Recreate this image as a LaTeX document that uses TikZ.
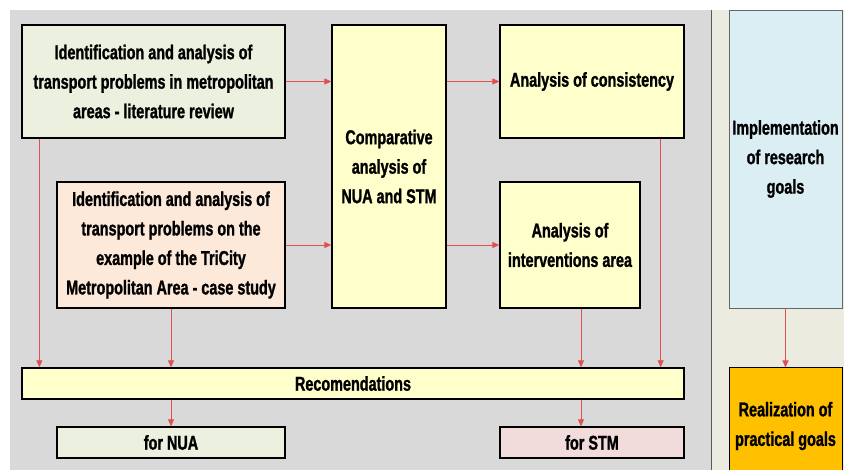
\documentclass[tikz,border=0pt]{standalone}
\usepackage{fontspec}
\setmainfont{Liberation Sans}[FakeStretch=0.72, BoldFeatures={FakeBold=1.2}]
\usetikzlibrary{arrows.meta}
\definecolor{bggray}{HTML}{D9D9D9}
\definecolor{bgbeige}{HTML}{ECEBE0}
\definecolor{litgreen}{HTML}{EBF1DE}
\definecolor{peach}{HTML}{FDE9D9}
\definecolor{paleyel}{HTML}{FFFFCC}
\definecolor{palepink}{HTML}{F2DCDB}
\definecolor{paleblue}{HTML}{DAEEF3}
\definecolor{goldbox}{HTML}{FFC000}
\definecolor{arrred}{HTML}{E05050}

\begin{document}
\begin{tikzpicture}[x=10pt,y=10pt]
  \tikzstyle{every node}+=[inner sep=0pt, align=center, font=\fontsize{20}{29.5}\selectfont\bfseries]
  \tikzset{
    box/.style={draw=black, line width=1.3pt},
    sidebox/.style={draw=gray!80!black, line width=0.8pt},
    arr/.style={draw=arrred, line width=0.8pt, -{Triangle[length=7pt,width=6pt]}}
  }
  \useasboundingbox (0,0) rectangle (84.4,-47);
  % backgrounds
  \fill [bggray] (1,-1) rectangle (71.1,-47);
  \fill [bgbeige] (71.1,-1) rectangle (84.4,-47);
  \draw [gray!70!black, line width=0.8pt] (71.1,-1) -- (71.1,-47);
  % left part
  \node [box, fill=litgreen, minimum width=263pt, minimum height=113pt] (lit) at (15.35,-8.15)
    {Identification and analysis of\\transport problems in metropolitan\\areas - literature review};
  \node [box, fill=peach, minimum width=228pt, minimum height=126pt] (case) at (17.1,-24.5)
    {Identification and analysis of\\transport problems on the\\example of the TriCity\\Metropolitan Area - case study};
  \node [box, fill=paleyel, minimum width=114pt, minimum height=283pt] (comp) at (38.9,-16.65)
    {Comparative\\analysis of\\NUA and STM};
  \node [box, fill=paleyel, minimum width=184pt, minimum height=113pt] (cons) at (59.2,-8.15)
    {Analysis of consistency};
  \node [box, fill=paleyel, minimum width=140pt, minimum height=126pt] (interv) at (57,-24.5)
    {Analysis of\\interventions area};
  \node [box, fill=paleyel, minimum width=662pt, minimum height=31pt] (rec) at (35.3,-38.35)
    {Recomendations};
  \node [box, fill=litgreen, minimum width=228pt, minimum height=31pt] (nua) at (17.1,-44.25)
    {for NUA};
  \node [box, fill=palepink, minimum width=184pt, minimum height=31pt] (stm) at (59.2,-44.25)
    {for STM};
  % right part
  \node [sidebox, fill=paleblue, minimum width=113pt, minimum height=298pt] (impl) at (78.55,-15.9)
    {Implementation\\of research\\goals};
  \node [box, line width=1pt, fill=goldbox, minimum width=113pt, minimum height=116pt] (real) at (78.55,-42.6)
    {Realization of\\practical goals};
  % connectors
  \draw [arr] (lit.east) -- (lit.east -| comp.west);
  \draw [arr] (case.east) -- (case.east -| comp.west);
  \draw [arr] (comp.east |- cons.west) -- (cons.west);
  \draw [arr] (comp.east |- interv.west) -- (interv.west);
  \draw [arr] ([xshift=18pt]lit.south west) -- ([xshift=18pt]lit.south west |- rec.north);
  \draw [arr] (case.south) -- (case.south |- rec.north);
  \draw [arr] ([xshift=11pt]interv.south) -- ([xshift=11pt]interv.south |- rec.north);
  \draw [arr] ([xshift=-24pt]cons.south east) -- ([xshift=-24pt]cons.south east |- rec.north);
  \draw [arr] (nua.north |- rec.south) -- (nua.north);
  \draw [arr] ([xshift=-11pt]stm.north |- rec.south) -- ([xshift=-11pt]stm.north);
  \draw [arr] (impl.south) -- (real.north);
\end{tikzpicture}
\end{document}
